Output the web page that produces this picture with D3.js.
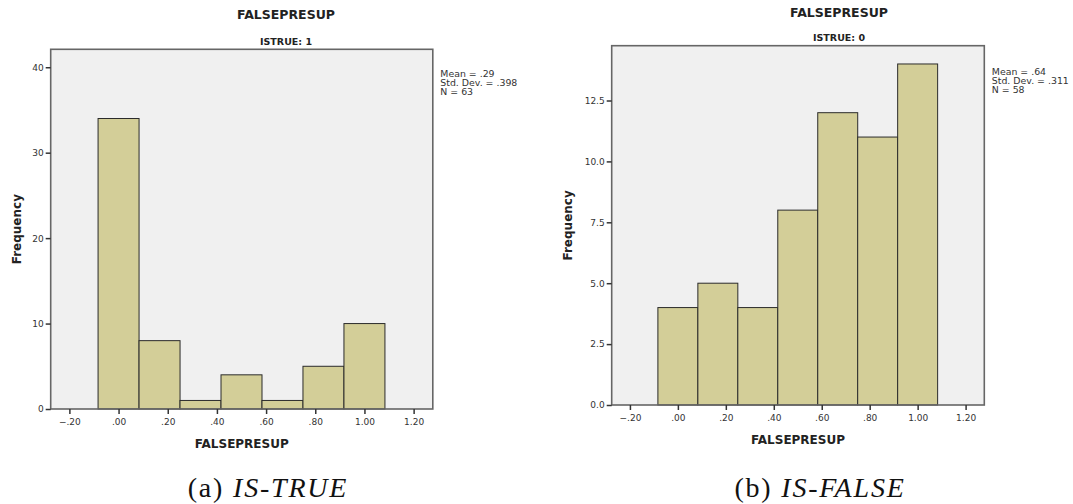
<!DOCTYPE html>
<html>
<head>
<meta charset="utf-8">
<title>FALSEPRESUP histograms</title>
<script src="https://d3js.org/d3.v7.min.js"></script>
<style>
  body { margin: 0; background: #fff; }
  text { font-family: "DejaVu Sans", sans-serif; fill: #222; }
  text.caption { font-family: "Liberation Serif", serif; fill: #111; }
</style>
</head>
<body>
<div id="chart"></div>
<script>
// bin centres (width 1/6) and counts
const binCenters = [0, 0.1667, 0.3333, 0.5, 0.6667, 0.8333, 1.0];
const binWidth = 0.1667;
const isTrueCounts = [34, 8, 1, 4, 1, 5, 10];
const isFalseCounts = [4, 5, 4, 8, 12, 11, 14];

const xTicks = [-0.2, 0, 0.2, 0.4, 0.6, 0.8, 1.0, 1.2];
const isTrueYTicks = [0, 10, 20, 30, 40];
const isFalseYTicks = [0, 2.5, 5, 7.5, 10, 12.5];

const isTrueStats = ["Mean = .29", "Std. Dev. = .398", "N = 63"];
const isFalseStats = ["Mean = .64", "Std. Dev. = .311", "N = 58"];

const W = 1073, H = 504;
const svg = d3.select("#chart").append("svg")
    .attr("width", W).attr("height", H);

function fmtX(v) {
    return d3.format(".2f")(v).replace("0.", ".");
}

function drawHist(p) {
    let x = d3.scaleLinear().domain([-0.276, 1.278]).range([p.left, p.right]);
    let y = d3.scaleLinear().domain([0, p.yMax]).range([p.bottom, p.top]);

    // plot background
    svg.append("rect")
        .attr("x", p.left).attr("y", p.top)
        .attr("width", p.right - p.left).attr("height", p.bottom - p.top)
        .attr("fill", "#f0f0f0");

    // bars
    svg.append("g").selectAll("rect")
        .data(p.counts)
        .enter()
        .append("rect")
        .attr("x", (d, i) => x(binCenters[i] - binWidth / 2))
        .attr("width", (d, i) => x(binCenters[i] + binWidth / 2) - x(binCenters[i] - binWidth / 2))
        .attr("y", d => y(d))
        .attr("height", d => y(0) - y(d))
        .attr("fill", "#d3ce98")
        .attr("stroke", "#2b2b2b")
        .attr("stroke-width", 1);

    // frame
    svg.append("rect")
        .attr("x", p.left).attr("y", p.top)
        .attr("width", p.right - p.left).attr("height", p.bottom - p.top)
        .attr("fill", "none")
        .attr("stroke", "#666")
        .attr("stroke-width", 1.6);

    let xAxis = d3.axisBottom(x).tickValues(xTicks).tickFormat(fmtX)
        .tickSize(5).tickPadding(5).tickSizeOuter(0);
    let gx = svg.append("g")
        .attr("transform", "translate(0," + p.bottom + ")")
        .call(xAxis);
    gx.select(".domain").remove();

    let yAxis = d3.axisLeft(y).tickValues(p.yTicks).tickFormat(p.yFmt)
        .tickSize(5).tickPadding(2).tickSizeOuter(0);
    let gy = svg.append("g")
        .attr("transform", "translate(" + p.left + ",0)")
        .call(yAxis);
    gy.select(".domain").remove();

    [gx, gy].forEach(g => {
        g.selectAll(".tick line").attr("stroke", "#333").attr("stroke-width", 1.5);
        g.selectAll(".tick text")
            .attr("font-size", "9px")
            .style("fill", "#333");
    });

    // titles
    svg.append("text")
        .attr("x", p.titleX).attr("y", p.titleY)
        .attr("text-anchor", "middle")
        .attr("font-size", "12.5px").attr("font-weight", "bold")
        .text("FALSEPRESUP");
    svg.append("text")
        .attr("x", p.titleX).attr("y", p.subY)
        .attr("text-anchor", "middle")
        .attr("font-size", "9.5px").attr("font-weight", "bold")
        .text(p.subtitle);

    // axis titles
    svg.append("text")
        .attr("x", (p.left + p.right) / 2).attr("y", p.bottom + 38.5)
        .attr("text-anchor", "middle")
        .attr("font-size", "12px").attr("font-weight", "bold")
        .text("FALSEPRESUP");
    svg.append("text")
        .attr("transform", "translate(" + p.yLabelX + "," + ((p.top + p.bottom) / 2) + ") rotate(-90)")
        .attr("dy", "0.35em")
        .attr("text-anchor", "middle")
        .attr("font-size", "12px").attr("font-weight", "bold")
        .text("Frequency");

    // summary statistics
    svg.append("g").selectAll("text")
        .data(p.stats)
        .enter()
        .append("text")
        .attr("x", p.right + 7.5)
        .attr("y", (d, i) => p.statsY + i * 9.2)
        .attr("font-size", "9.4px")
        .style("fill", "#333")
        .text(d => d);

    // caption
    svg.append("text")
        .attr("class", "caption")
        .attr("x", p.capX).attr("y", 497)
        .attr("text-anchor", "middle")
        .attr("font-size", "28px")
        .attr("letter-spacing", "1.8px")
        .call(t => {
            t.append("tspan").text(p.capLabel + " ");
            t.append("tspan").attr("font-style", "italic").text(p.capName);
        });
}

drawHist({
    left: 50.7, right: 432.8, top: 49.3, bottom: 409,
    yMax: 42.1, yTicks: isTrueYTicks, yFmt: d3.format("d"),
    counts: isTrueCounts, stats: isTrueStats, statsY: 76.6,
    titleX: 286, titleY: 19, subY: 44.5, subtitle: "ISTRUE: 1",
    yLabelX: 17, capX: 268, capLabel: "(a)", capName: "IS-TRUE"
});

drawHist({
    left: 611.7, right: 984.3, top: 45.7, bottom: 405,
    yMax: 14.75, yTicks: isFalseYTicks, yFmt: d3.format(".1f"),
    counts: isFalseCounts, stats: isFalseStats, statsY: 75,
    titleX: 839, titleY: 16.5, subY: 40.5, subtitle: "ISTRUE: 0",
    yLabelX: 568, capX: 820, capLabel: "(b)", capName: "IS-FALSE"
});
</script>
</body>
</html>
